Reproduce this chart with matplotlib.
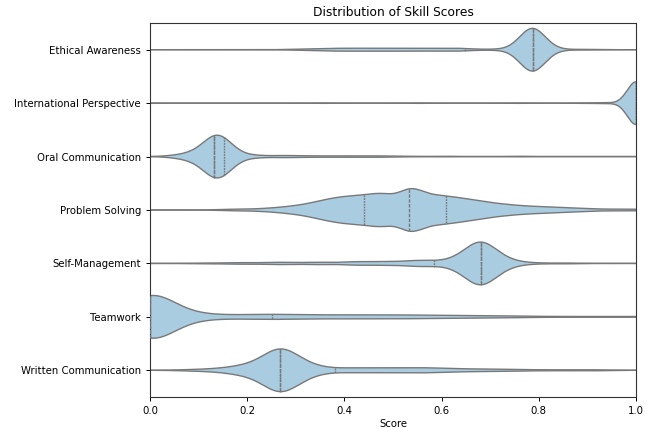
import numpy as np
import matplotlib
matplotlib.use("Agg")
import matplotlib.pyplot as plt

# skills, top to bottom
skills = ['Ethical Awareness', 'International Perspective', 'Oral Communication',
          'Problem Solving', 'Self-Management', 'Teamwork', 'Written Communication']

# score values and how many students got them
ethical_scores = [0.30, 0.34, 0.38, 0.42, 0.46, 0.50, 0.54, 0.58, 0.62, 0.648, 0.70, 0.74,
                  0.787, 0.84, 0.90]
ethical_counts = [1, 2, 3, 3, 3, 3, 3, 3, 3, 2, 1, 1, 70, 1, 1]

intl_scores = [0.0, 0.35, 0.55, 0.75, 0.88, 0.93, 1.0]
intl_counts = [1, 1, 1, 1, 1, 2, 93]

oral_scores = [0.05, 0.08, 0.105, 0.132, 0.152, 0.175, 0.22, 0.28, 0.34, 0.40, 0.46, 0.52, 0.60, 0.75]
oral_counts = [2, 5, 8, 40, 25, 5, 3, 3, 2, 2, 2, 1, 1, 1]

problem_scores = [0.16, 0.20, 0.24, 0.28, 0.32, 0.36, 0.40, 0.44, 0.48, 0.533, 0.57, 0.609,
                  0.65, 0.69, 0.73, 0.77, 0.81, 0.85, 0.89, 0.93, 0.97, 1.0]
problem_counts = [1, 1, 2, 4, 7, 13, 17, 18, 23, 32, 17, 18, 14, 10, 7, 5, 4, 3, 2, 1, 1, 1]

selfm_scores = [0.10, 0.18, 0.26, 0.34, 0.42, 0.48, 0.54, 0.56, 0.584, 0.62, 0.65, 0.68,
                0.71, 0.74, 0.79, 0.86]
selfm_counts = [1, 2, 3, 3, 4, 4, 4, 3, 2, 4, 9, 46, 9, 4, 1, 1]

team_scores = [0.0, 0.03, 0.06, 0.10, 0.14, 0.18, 0.22, 0.252, 0.30, 0.36, 0.42, 0.48, 0.54,
               0.60, 0.66, 0.72, 0.80, 0.90, 1.0]
team_counts = [51, 8, 5, 3, 2, 2, 2, 3, 3, 3, 3, 3, 3, 2, 2, 2, 1, 1, 1]

written_scores = [0.08, 0.13, 0.17, 0.20, 0.235, 0.267, 0.30, 0.33, 0.355, 0.381, 0.42, 0.46,
                  0.50, 0.54, 0.58, 0.62, 0.67, 0.72, 0.78, 0.85, 0.92]
written_counts = [1, 2, 3, 6, 9, 35, 12, 5, 1, 2, 3, 3, 3, 3, 3, 2, 2, 2, 1, 1, 1]

all_scores = [ethical_scores, intl_scores, oral_scores, problem_scores, selfm_scores,
              team_scores, written_scores]
all_counts = [ethical_counts, intl_counts, oral_counts, problem_counts, selfm_counts,
              team_counts, written_counts]
# kde bandwidth per skill
bandwidths = [0.026, 0.018, 0.025, 0.025, 0.03, 0.045, 0.032]

fill_color = '#a9cce1'
line_color = '#787878'
half_max = 0.4   # violin width 0.8, every violin scaled to the same width

fig = plt.figure(figsize=(6.52, 4.29), dpi=100)
ax = fig.add_axes([0.2301, 0.0746, 0.7454, 0.8718])

grid = np.linspace(0, 1, 801)
for i, (vals, cnts, bw) in enumerate(zip(all_scores, all_counts, bandwidths)):
    v = np.array(vals)[:, None]
    w = np.array(cnts)[:, None]
    dens = (w * np.exp(-0.5 * ((grid - v) / bw) ** 2)).sum(axis=0)
    half = dens / dens.max() * half_max

    ax.fill_between(grid, i - half, i + half, facecolor=fill_color, edgecolor='none', zorder=1)
    ax.plot(grid, i - half, color=line_color, lw=1.0, zorder=2)
    ax.plot(grid, i + half, color=line_color, lw=1.0, zorder=2)

    # quartile lines
    obs = np.repeat(vals, cnts)
    q1, med, q3 = np.percentile(obs, [25, 50, 75])
    for q, dash in [(q1, (1.25, 0.75)), (q3, (1.25, 0.75)), (med, (2.5, 1))]:
        h = np.interp(q, grid, half)
        ax.plot([q, q], [i - h, i + h], color=line_color, lw=1.0,
                linestyle=(0, dash), zorder=3)

ax.set_xlim(0, 1)
ax.set_ylim(len(skills) - 0.5, -0.5)
ax.set_yticks(range(len(skills)))
ax.set_yticklabels(skills)
ax.set_xticks([0.0, 0.2, 0.4, 0.6, 0.8, 1.0])
ax.tick_params(labelsize=7.3, width=0.7, length=3)
for s in ax.spines.values():
    s.set_linewidth(0.8)
    s.set_color('#333333')
ax.set_xlabel('Score', fontsize=7.3, labelpad=2)
ax.set_ylabel('')
ax.set_title('Distribution of Skill Scores', fontsize=8.8, pad=5)

fig.savefig('out.png', dpi=100)
